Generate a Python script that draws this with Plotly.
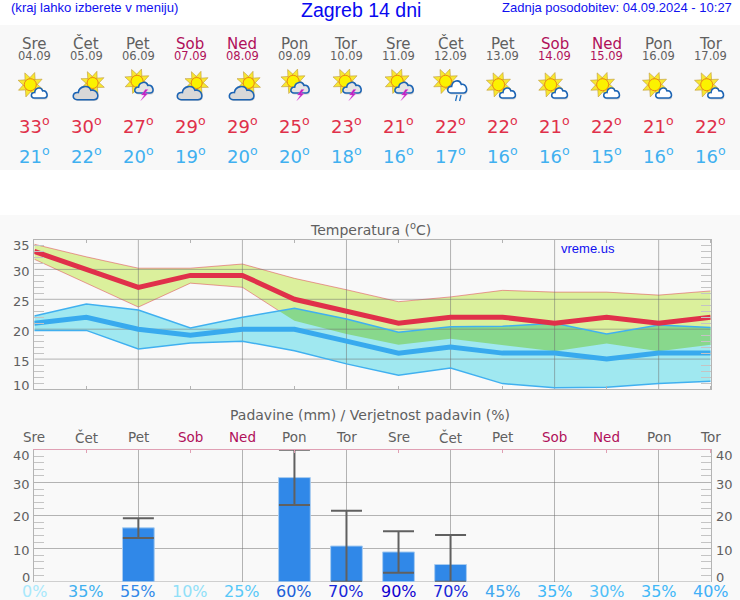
import base64
import math
import plotly.graph_objects as go

days = ["Sre", "Čet", "Pet", "Sob", "Ned", "Pon", "Tor", "Sre", "Čet", "Pet", "Sob", "Ned", "Pon", "Tor"]
dates = ["04.09", "05.09", "06.09", "07.09", "08.09", "09.09", "10.09", "11.09", "12.09", "13.09", "14.09", "15.09", "16.09", "17.09"]
icons = ["A", "B", "C", "B", "B", "C", "C", "C", "D", "A", "A", "A", "A", "A"]

tmax_avg = [33, 30, 27, 29, 29, 25, 23, 21, 22, 22, 21, 22, 21, 22]
tmax_high = [34.2, 32.1, 30.2, 30.2, 30.9, 28.5, 26.6, 24.6, 25.4, 26.5, 26.2, 26.2, 25.7, 26.4]
tmax_low = [31.7, 27.7, 23.7, 27.7, 27.0, 21.4, 19.2, 17.4, 18.4, 17.3, 16.3, 17.6, 16.3, 17.4]
tmin_avg = [21, 22, 20, 19, 20, 20, 18, 16, 17, 16, 16, 15, 16, 16]
tmin_high = [22.2, 24.2, 23.2, 20.2, 22.0, 23.5, 21.7, 19.5, 20.4, 20.5, 21.0, 19.2, 20.7, 20.3]
tmin_low = [19.8, 19.8, 16.7, 17.7, 18.0, 16.4, 14.2, 12.3, 13.5, 10.9, 10.2, 10.3, 10.9, 11.3]

rain = [None, None, 16.3, None, None, 31.5, 10.8, 9.0, 5.2, None, None, None, None, None]
rain_high = [None, None, 19.2, None, None, 39.9, 21.5, 15.3, 14.1, None, None, None, None, None]
rain_low = [None, None, 13.2, None, None, 23.2, 0, 2.7, 0, None, None, None, None, None]
prob = [0, 35, 55, 10, 25, 60, 70, 90, 70, 45, 35, 30, 35, 40]
prob_colors = ["#a8e8fc", "#40b0f0", "#3088e8", "#90e0f8", "#58c8f8", "#2060d8", "#1828d8",
               "#1000d0", "#1828d8", "#40a8f0", "#40b8f8", "#50c0f8", "#40b8f8", "#40b0f8"]

temp_ticks = [35, 30, 25, 20, 15, 10]
rain_ticks = [40, 30, 20, 10, 0]

GREY = "#606060"
RED = "#e0304a"
BLUE = "#40b0f0"
WEEKEND = "#b0105a"
FONT = "DejaVu Sans"
SANS = "Liberation Sans"
GRID = "rgba(110,110,110,0.5)"
FRAME = "#b4b4b4"

X0, X1 = 34.3, 710.7
W, H = 740, 600
x = list(range(len(days)))


def py(p):
    return 1 - p / H


def px(i):
    return (X0 + i * (X1 - X0) / 13) / W


def day_color(i):
    return WEEKEND if days[i] in ("Sob", "Ned") else GREY


# ---- weather icons -------------------------------------------------------
def sun(cx, cy, r):
    s = ""
    for k in range(8):
        a = math.radians(k * 45 + 20)
        b = 0.5
        x1 = cx + (r + 7) * math.cos(a)
        y1 = cy + (r + 7) * math.sin(a)
        x2 = cx + (r + 0.5) * math.cos(a - b)
        y2 = cy + (r + 0.5) * math.sin(a - b)
        x3 = cx + (r + 0.5) * math.cos(a + b)
        y3 = cy + (r + 0.5) * math.sin(a + b)
        s += f'<polygon points="{x1:.1f},{y1:.1f} {x2:.1f},{y2:.1f} {x3:.1f},{y3:.1f}" fill="#f8e830" stroke="#c09838" stroke-width=".6"/>'
    s += f'<circle cx="{cx}" cy="{cy}" r="{r}" fill="#fbf200" stroke="#f08a10" stroke-width="1"/>'
    return s


def cloud(a, b, c, d, fill):
    def P(u, v):
        return f"{a + u * (c - a):.1f} {b + v * (d - b):.1f}"
    path = (f"M{P(.18, 1)} C{P(-.05, 1)} {P(-.02, .45)} {P(.22, .5)} "
            f"C{P(.25, .05)} {P(.62, -.08)} {P(.7, .35)} "
            f"C{P(.98, .25)} {P(1.08, 1)} {P(.82, 1)} Z")
    shadow = f'<path d="{path}" fill="#b8b8b8" opacity=".6" transform="translate(.8,1.4)"/>'
    return shadow + f'<path d="{path}" fill="{fill}" stroke="#1c64b4" stroke-width="1.6"/>'


BOLT = ('<polygon points="27,22.5 23,28 26,28 22.5,33.5 29.5,26.5 26.5,26.5 29.5,22.5" '
        'fill="#c020c0" stroke="#e060e0" stroke-width=".4"/>')
RAINDROPS = ('<line x1="26.5" y1="28" x2="25" y2="34" stroke="#2070c0" stroke-width="1.3"/>'
             '<line x1="30.5" y1="28" x2="29" y2="34" stroke="#2070c0" stroke-width="1.3"/>')

icon_svg = {
    "A": sun(16, 17.7, 6) + cloud(16.7, 20, 33.3, 31, "#ffffff"),
    "B": sun(26.3, 16, 5.5) + cloud(6.3, 18.3, 32.3, 32.7, "#d8d8d8"),
    "C": sun(18.7, 14.3, 6) + cloud(16, 14.3, 35.3, 26, "#e4e4e4") + BOLT,
    "D": sun(15, 14.3, 6) + cloud(16.7, 12.7, 36.7, 26, "#ffffff") + RAINDROPS,
}


def icon_uri(key):
    svg = f'<svg xmlns="http://www.w3.org/2000/svg" width="40" height="40" viewBox="0 0 40 40">{icon_svg[key]}</svg>'
    return "data:image/svg+xml;base64," + base64.b64encode(svg.encode()).decode()


# ---- figure --------------------------------------------------------------
fig = go.Figure()


def line(xs, ys, color, width, **kw):
    fig.add_trace(go.Scatter(x=xs, y=ys, mode="lines", line=dict(color=color, width=width),
                             hoverinfo="skip", showlegend=False, **kw))


# warm band, cool band, their overlap
line(x, tmax_high, "rgba(224,60,80,0.5)", 1)
line(x, tmax_low, "rgba(224,60,80,0.5)", 1, fill="tonexty", fillcolor="#dbf09c")
line(x, tmin_high, BLUE, 0)
line(x, tmin_low, BLUE, 0, fill="tonexty", fillcolor="#a0e8f0")

d4 = tmax_low[4] - tmin_high[4]
d5 = tmax_low[5] - tmin_high[5]
cross = 4 + d4 / (d4 - d5)
cross_y = tmax_low[4] + (cross - 4) * (tmax_low[5] - tmax_low[4])
ox = [cross] + x[5:]
line(ox, [cross_y] + tmin_high[5:], "rgba(0,0,0,0)", 0)
line(ox, [cross_y] + tmax_low[5:], "rgba(0,0,0,0)", 0, fill="tonexty", fillcolor="#88d88c")

# temperature grid sits above the bands
gx, gy = [], []
for v in x[2:-1:2]:
    gx += [v, v, None]
    gy += [10, 35, None]
for v in temp_ticks[1:-1]:
    gx += [0, 13, None]
    gy += [v, v, None]
line(gx, gy, GRID, 1)

line(x, tmin_high, BLUE, 1.5)
line(x, tmin_low, BLUE, 1.5)
line(x, tmin_avg, "#38aaee", 5)
line(x, tmax_avg, RED, 5)

errs_up = [None if r is None else h - r for r, h in zip(rain, rain_high)]
errs_dn = [None if r is None else r - l for r, l in zip(rain, rain_low)]
fig.add_trace(go.Bar(
    x=x, y=rain, xaxis="x2", yaxis="y2", width=0.61, cliponaxis=False,
    marker=dict(color="#3088e8", line=dict(color="#a8ccf0", width=1)),
    error_y=dict(type="data", symmetric=False, array=errs_up, arrayminus=errs_dn,
                 color=GREY, thickness=2, width=15.5),
    hoverinfo="skip", showlegend=False))

ann = []


def text(xv, yp, s, size, color, xref="paper", family=FONT, xanchor="center"):
    ann.append(dict(x=xv, y=py(yp), xref=xref, yref="paper", text=s, showarrow=False,
                    font=dict(family=family, size=size, color=color),
                    xanchor=xanchor, yanchor="middle", align="center",
                    borderpad=0, borderwidth=0))


text(11 / W, 8, "(kraj lahko izberete v meniju)", 13.1, "#1010f0", family=SANS, xanchor="left")
text(361 / W, 10, "Zagreb 14 dni", 19.5, "#0808f0", family=SANS)
text(732 / W, 8, "Zadnja posodobitev: 04.09.2024 - 10:27", 13, "#1010f0", family=SANS, xanchor="right")
text(370 / W, 229, "Temperatura (<sup>o</sup>C)", 14, GREY)
text(370 / W, 415, "Padavine (mm) / Verjetnost padavin (%)", 14, GREY)
text(561 / W, 248, "vreme.us", 13, "#1010f0", family=SANS, xanchor="left")

for i in x:
    text(i, 43.5, days[i], 15, day_color(i), xref="x")
    text(i, 55.5, dates[i], 11.5, day_color(i), xref="x")
    text(i, 125, f"{tmax_avg[i]}<sup>o</sup>", 18, RED, xref="x")
    text(i, 155, f"{tmin_avg[i]}<sup>o</sup>", 18, BLUE, xref="x")
    text(i, 437, days[i], 13.5, day_color(i), xref="x")
    text(i, 591.5, f"{prob[i]}%", 16, prob_colors[i], xref="x")

temp_label_y = [245, 271, 301.5, 331, 361.5, 385.5]
for t, yp in zip(temp_ticks, temp_label_y):
    text(30 / W, yp, str(t), 13, GREY, xanchor="right")
rain_label_y = [455, 484, 516, 550, 577]
for t, yp in zip(rain_ticks, rain_label_y):
    text(30 / W, yp, str(t), 13, GREY, xanchor="right")
    text(715.5 / W, yp, str(t), 13, GREY, xanchor="left")

images = [dict(source=icon_uri(k), xref="paper", yref="paper", x=px(i), y=py(87),
               sizex=40 / W, sizey=40 / H, xanchor="center", yanchor="middle",
               sizing="contain", layer="above") for i, k in enumerate(icons)]

shapes = [
    dict(type="rect", xref="paper", yref="paper", x0=0, x1=1, y0=py(170), y1=py(25),
         fillcolor="#f8f8f8", line_width=0, layer="below"),
    dict(type="rect", xref="paper", yref="paper", x0=0, x1=1, y0=0, y1=py(215),
         fillcolor="#f9f9f9", line_width=0, layer="below"),
    dict(type="line", xref="x2", yref="y2", x0=0, x1=13, y0=0, y1=0,
         line=dict(color=FRAME, width=1), layer="below"),
]

minor_y = dict(ticks="inside", ticklen=10, tickcolor="#c4c4c4", tickwidth=1, showgrid=False)
dom_x = [X0 / W, X1 / W]

fig.update_layout(
    width=W, height=H, autosize=False, margin=dict(l=0, r=0, t=0, b=0),
    paper_bgcolor="#ffffff", plot_bgcolor="rgba(0,0,0,0)", showlegend=False,
    annotations=ann, images=images, shapes=shapes, barmode="overlay",
    font=dict(family=FONT, color=GREY),
    xaxis=dict(domain=dom_x, range=[0, 13], anchor="y", tick0=0, dtick=2, ticks="", showgrid=False,
               zeroline=False, showticklabels=False, showline=True, linecolor=FRAME, mirror="ticks",
               minor=dict(dtick=1, ticks="inside", ticklen=3, tickcolor=FRAME, showgrid=False)),
    yaxis=dict(domain=[py(389), py(239.5)], range=[10, 35], anchor="x", tick0=10, dtick=5, ticks="",
               showgrid=False, zeroline=False, showticklabels=False, showline=True, linecolor=FRAME,
               mirror="ticks", minor=dict(dtick=1, **minor_y)),
    xaxis2=dict(domain=dom_x, range=[0, 13], anchor="y2", side="top", tick0=0, dtick=2, ticks="",
                showgrid=True, gridcolor=GRID, zeroline=False, showticklabels=False, showline=True,
                linecolor="#e0a0b4",
                minor=dict(dtick=1, ticks="inside", ticklen=3, tickcolor="#e0a0b4", showgrid=False)),
    yaxis2=dict(domain=[py(581.7), py(449.5)], range=[0, 40], anchor="x2", tick0=0, dtick=10, ticks="",
                showgrid=True, gridcolor=GRID, zeroline=False, showticklabels=False, showline=True,
                linecolor=FRAME, mirror="ticks", minor=dict(dtick=2, **minor_y)),
)

fig.write_html("out.html", config=dict(displayModeBar=False),
               post_script="document.body.style.margin='0';document.body.style.overflow='hidden';")
